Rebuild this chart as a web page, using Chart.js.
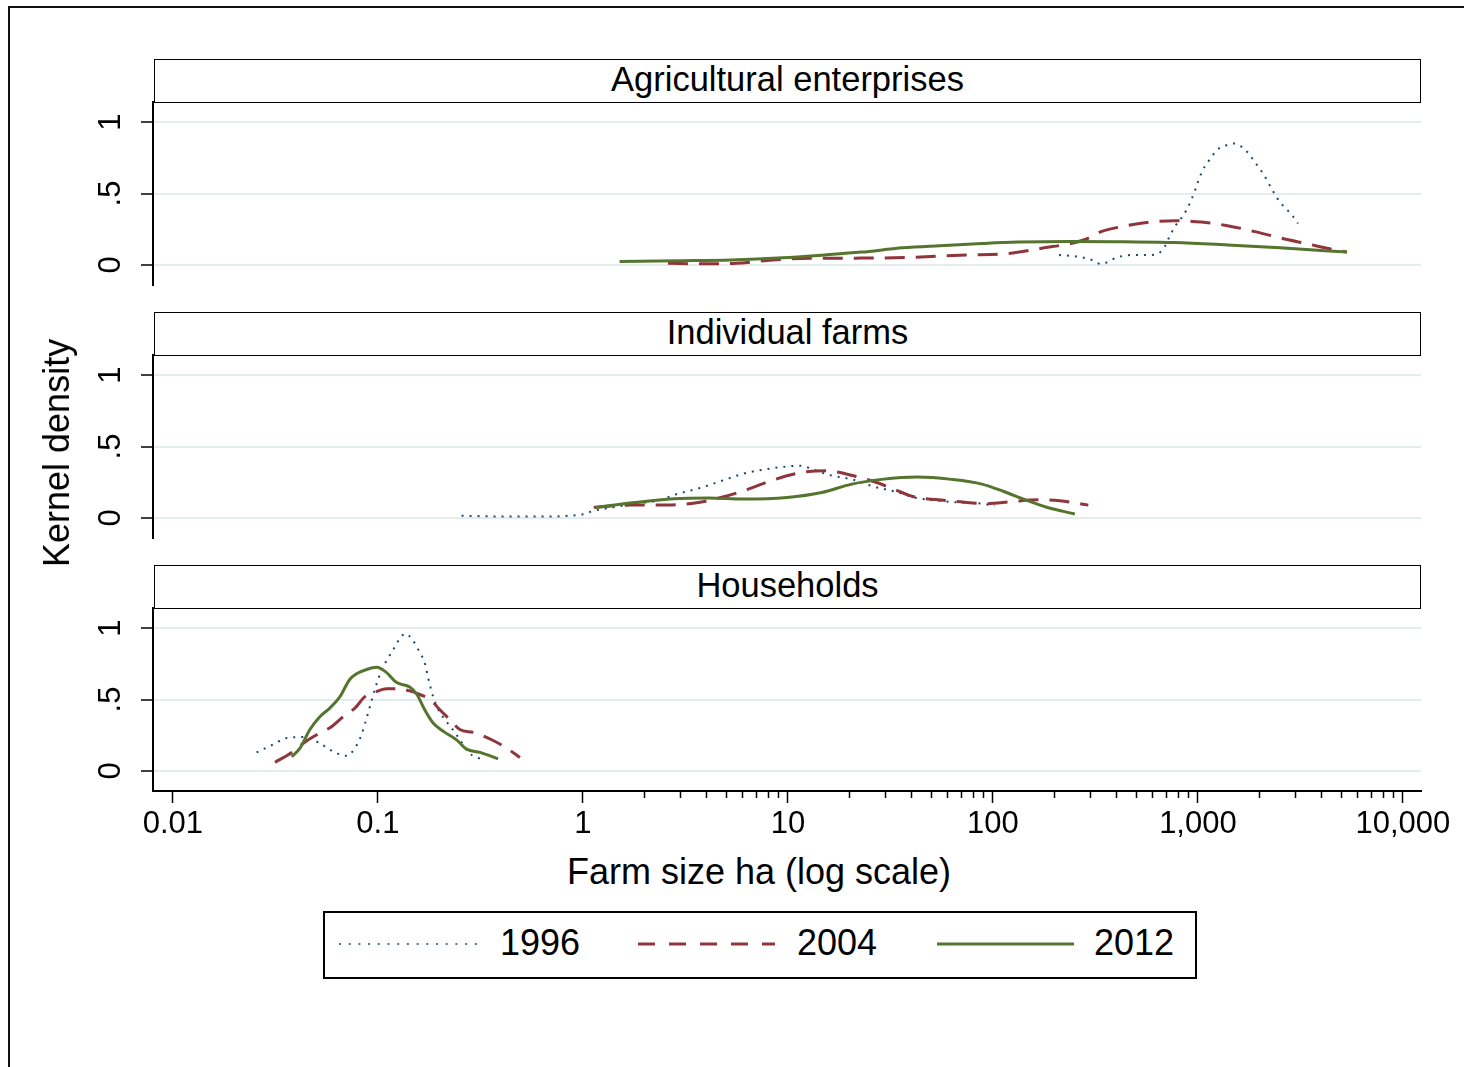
<!DOCTYPE html>
<html>
<head>
<meta charset="utf-8">
<title>Kernel density of farm size</title>
<script src="https://cdn.jsdelivr.net/npm/chart.js@4.4.1/dist/chart.umd.min.js"></script>
<style>
  html, body { margin: 0; padding: 0; background: #fff; }
  body {
    width: 1464px; height: 1067px; overflow: hidden; position: relative;
    font-family: "Liberation Sans", Arial, Helvetica, sans-serif; color: #000;
  }
  .frame {
    position: absolute; left: 8px; top: 6px; width: 1490px; height: 1100px;
    border: 2px solid #111; box-sizing: border-box;
  }
  canvas.panel { position: absolute; left: 0; }
  .strip {
    position: absolute; left: 154px; width: 1267px; height: 44px;
    border: 1.5px solid #000; box-sizing: border-box; background: #fff;
    text-align: center; font-size: 34.5px; line-height: 39px; white-space: nowrap;
  }
  .axis-title {
    position: absolute; font-size: 36px; white-space: nowrap; line-height: 1;
  }
  .legend {
    position: absolute; left: 323px; top: 911px; width: 874px; height: 68px;
    border: 2px solid #000; box-sizing: border-box; background: #fff;
  }
  .legend svg { position: absolute; overflow: visible; }
  .legend .lab { position: absolute; font-size: 36px; line-height: 1; white-space: nowrap; }
</style>
</head>
<body>
<div class="frame"></div>

<script>
// ---- farm-size densities: farm size in hectares, kernel density ----
// Agricultural enterprises
const ENT_1996_HA  = [210, 254, 304, 336, 407, 482, 577, 645, 690, 722, 773, 822, 884, 925, 967, 1011, 1052, 1119, 1183, 1280, 1400, 1500, 1622, 1742, 1853, 1985, 2099, 2195, 2297, 2430, 2583, 2748, 2906, 3075];
const ENT_1996_DEN = [0.07, 0.06, 0.035, 0.007, 0.055, 0.07, 0.07, 0.083, 0.13, 0.19, 0.27, 0.32, 0.39, 0.45, 0.52, 0.60, 0.66, 0.72, 0.77, 0.82, 0.84, 0.85, 0.83, 0.79, 0.74, 0.68, 0.63, 0.58, 0.53, 0.47, 0.42, 0.38, 0.34, 0.29];
const ENT_2004_HA  = [2.6, 3.9, 5.6, 8.4, 12.7, 22.8, 41, 74, 118, 178, 239, 284, 340, 431, 577, 773, 1040, 1394, 1872, 2512, 3365, 4508, 5336];
const ENT_2004_DEN = [0.012, 0.008, 0.012, 0.035, 0.047, 0.048, 0.054, 0.07, 0.08, 0.12, 0.15, 0.18, 0.235, 0.27, 0.30, 0.31, 0.30, 0.275, 0.235, 0.19, 0.15, 0.11, 0.09];
const ENT_2012_HA  = [1.51, 2.92, 5.26, 9.46, 15.1, 22.8, 36.4, 55.1, 88.2, 132, 239, 431, 773, 1394, 2512, 5336];
const ENT_2012_DEN = [0.025, 0.03, 0.035, 0.05, 0.07, 0.09, 0.12, 0.135, 0.15, 0.16, 0.165, 0.162, 0.157, 0.14, 0.12, 0.09];

// Individual farms
const IND_1996_HA  = [0.256, 0.417, 0.678, 0.865, 1.0, 1.13, 1.41, 1.79, 2.29, 2.92, 3.72, 4.76, 6.07, 7.73, 9.89, 11.5, 13.2, 16.0, 20.5, 26.2, 33.3, 42.6, 54.3, 69.0, 88.4, 102];
const IND_1996_DEN = [0.016, 0.01, 0.01, 0.016, 0.026, 0.05, 0.075, 0.10, 0.12, 0.17, 0.21, 0.26, 0.31, 0.34, 0.36, 0.366, 0.34, 0.30, 0.27, 0.22, 0.185, 0.14, 0.12, 0.108, 0.10, 0.085];
const IND_2004_HA  = [1.13, 1.71, 2.29, 3.07, 3.72, 4.76, 6.07, 7.73, 9.89, 12.6, 15.3, 17.7, 21.5, 26.2, 31.8, 40.6, 54.3, 69.0, 92.9, 124, 166, 212, 292];
const IND_2004_DEN = [0.075, 0.09, 0.09, 0.095, 0.11, 0.145, 0.19, 0.245, 0.295, 0.325, 0.33, 0.32, 0.29, 0.255, 0.21, 0.15, 0.127, 0.113, 0.10, 0.115, 0.127, 0.12, 0.09];
const IND_2012_HA  = [1.15, 1.79, 2.78, 4.12, 6.07, 9.89, 14.6, 20.5, 28.7, 42.6, 62.9, 88.4, 113, 144, 183, 251];
const IND_2012_DEN = [0.073, 0.108, 0.134, 0.139, 0.132, 0.143, 0.178, 0.237, 0.27, 0.287, 0.27, 0.237, 0.185, 0.127, 0.075, 0.028];

// Households
const HH_1996_HA  = [0.0256, 0.0303, 0.0359, 0.0433, 0.0512, 0.0606, 0.0703, 0.0773, 0.0832, 0.0881, 0.0931, 0.0986, 0.104, 0.110, 0.119, 0.127, 0.136, 0.147, 0.160, 0.169, 0.176, 0.186, 0.197, 0.212, 0.229, 0.251, 0.276, 0.303, 0.333];
const HH_1996_DEN = [0.13, 0.18, 0.23, 0.237, 0.20, 0.136, 0.106, 0.16, 0.254, 0.37, 0.49, 0.61, 0.70, 0.77, 0.85, 0.92, 0.96, 0.92, 0.83, 0.76, 0.65, 0.52, 0.43, 0.36, 0.30, 0.22, 0.13, 0.096, 0.077];
const HH_2004_HA  = [0.0315, 0.0380, 0.0449, 0.0521, 0.0594, 0.0677, 0.0773, 0.0865, 0.0966, 0.110, 0.123, 0.143, 0.160, 0.180, 0.200, 0.224, 0.251, 0.292, 0.315, 0.365, 0.425, 0.493];
const HH_2004_DEN = [0.06, 0.13, 0.21, 0.265, 0.31, 0.38, 0.44, 0.52, 0.55, 0.575, 0.575, 0.56, 0.535, 0.50, 0.43, 0.36, 0.29, 0.27, 0.254, 0.213, 0.16, 0.094];
const HH_2012_HA  = [0.0380, 0.0417, 0.0466, 0.0521, 0.0583, 0.0653, 0.0729, 0.0787, 0.0881, 0.0986, 0.110, 0.123, 0.143, 0.155, 0.169, 0.186, 0.209, 0.242, 0.271, 0.315, 0.386];
const HH_2012_DEN = [0.10, 0.16, 0.29, 0.38, 0.44, 0.52, 0.64, 0.68, 0.71, 0.725, 0.69, 0.62, 0.587, 0.535, 0.43, 0.336, 0.277, 0.218, 0.153, 0.13, 0.085];

// ---- categories and axis ticks ----
const PANEL_TITLES = ['Agricultural enterprises', 'Individual farms', 'Households'];
const YEARS = ['1996', '2004', '2012'];
const Y_TICKS = [0, 0.5, 1];
const Y_TICK_LABELS = ['0', '.5', '1'];
const X_MAJOR_TICKS = [0.01, 0.1, 1, 10, 100, 1000, 10000];
const X_MAJOR_LABELS = ['0.01', '0.1', '1', '10', '100', '1,000', '10,000'];
const X_MINOR_DECADES = [1, 10, 100, 1000];
const X_TITLE = 'Farm size ha (log scale)';
const Y_TITLE = 'Kernel density';

const PANEL_SERIES = [
  [[ENT_1996_HA, ENT_1996_DEN], [ENT_2004_HA, ENT_2004_DEN], [ENT_2012_HA, ENT_2012_DEN]],
  [[IND_1996_HA, IND_1996_DEN], [IND_2004_HA, IND_2004_DEN], [IND_2012_HA, IND_2012_DEN]],
  [[HH_1996_HA, HH_1996_DEN], [HH_2004_HA, HH_2004_DEN], [HH_2012_HA, HH_2012_DEN]]
];

// ---- styling ----
const LINE_STYLES = [
  { color: '#1a476f', width: 2, dash: [2, 6], legendDash: '2 7.7', legendWidth: 1.6 },
  { color: '#90353b', width: 3, dash: [20, 11], legendDash: '17 14', legendWidth: 3 },
  { color: '#55752f', width: 3, dash: [], legendDash: 'none', legendWidth: 3 }
];
const FONT = '"Liberation Sans", Arial, Helvetica, sans-serif';
const TICK_FONT_SIZE = 31;
const PAGE_W = 1464;
const PANEL_TOP = [59, 312, 565];
const STRIP_H = 43;
const PLOT_H = 183;
const PLOT_LEFT = 153;
const PLOT_RIGHT_PAD = 43;
const X_AXIS_H = 60;
const BOTTOM_SPARE = 40;
const X_MIN = 0.008, X_MAX = 12250;
const Y_MIN = -0.14, Y_MAX = 1.14;

Chart.defaults.font.family = FONT;
Chart.defaults.color = '#000';

const X_TICK_VALUES = X_MAJOR_TICKS.concat(
  X_MINOR_DECADES.flatMap(d => [2, 3, 4, 5, 6, 7, 8, 9].map(k => k * d))
).sort((a, b) => a - b);

function majorIndex(v) {
  if (v === undefined || v === null) return -1;
  return X_MAJOR_TICKS.findIndex(m => Math.abs(m - v) <= m * 1e-9);
}

function buildPanel(p) {
  const withX = p === PANEL_TITLES.length - 1;
  const canvas = document.createElement('canvas');
  canvas.className = 'panel';
  const h = STRIP_H + PLOT_H + (withX ? X_AXIS_H : BOTTOM_SPARE);
  canvas.width = PAGE_W;
  canvas.height = h;
  canvas.style.top = PANEL_TOP[p] + 'px';
  canvas.style.width = PAGE_W + 'px';
  canvas.style.height = h + 'px';
  document.body.appendChild(canvas);

  const datasets = PANEL_SERIES[p].map(([ha, den], i) => ({
    label: YEARS[i],
    data: ha.map((x, k) => ({ x: x, y: den[k] })),
    borderColor: LINE_STYLES[i].color,
    borderWidth: LINE_STYLES[i].width,
    borderDash: LINE_STYLES[i].dash,
    borderCapStyle: 'butt',
    borderJoinStyle: 'round',
    pointRadius: 0,
    pointHoverRadius: 0,
    fill: false,
    cubicInterpolationMode: 'monotone',
    order: YEARS.length - 1 - i
  }));

  new Chart(canvas, {
    type: 'line',
    data: { datasets },
    options: {
      responsive: false,
      animation: false,
      devicePixelRatio: 1,
      events: [],
      layout: { padding: { top: STRIP_H, left: 0, right: PLOT_RIGHT_PAD, bottom: withX ? 0 : BOTTOM_SPARE } },
      plugins: { legend: { display: false }, tooltip: { enabled: false }, title: { display: false } },
      scales: {
        x: {
          type: 'logarithmic',
          position: 'bottom',
          display: withX,
          min: X_MIN, max: X_MAX,
          bounds: 'data',
          afterBuildTicks: sc => { sc.ticks = X_TICK_VALUES.map(v => ({ value: v })); },
          afterFit: sc => { if (withX) sc.height = X_AXIS_H; },
          ticks: {
            autoSkip: false, minRotation: 0, maxRotation: 0, padding: 3,
            color: '#000', font: { size: TICK_FONT_SIZE },
            callback: v => { const i = majorIndex(v); return i >= 0 ? X_MAJOR_LABELS[i] : ''; }
          },
          grid: {
            drawOnChartArea: false, drawTicks: true, tickLength: 12,
            tickColor: '#000', tickWidth: 1.5,
            tickBorderDash: ctx => (majorIndex(ctx.tick && ctx.tick.value) >= 0 ? [] : [6, 40])
          },
          border: { display: true, color: '#000', width: 2 }
        },
        y: {
          type: 'linear',
          position: 'left',
          min: Y_MIN, max: Y_MAX,
          bounds: 'data',
          afterBuildTicks: sc => { sc.ticks = Y_TICKS.map(v => ({ value: v })); },
          afterFit: sc => { sc.width = PLOT_LEFT; },
          ticks: {
            minRotation: 90, maxRotation: 90, crossAlign: 'center', padding: 17,
            color: '#000', font: { size: TICK_FONT_SIZE },
            callback: v => { const i = Y_TICKS.indexOf(v); return i >= 0 ? Y_TICK_LABELS[i] : ''; }
          },
          grid: {
            color: '#e4ecee', lineWidth: 2, drawTicks: true, tickLength: 12,
            tickColor: '#000', tickWidth: 1.5
          },
          border: { display: true, color: '#000', width: 2 }
        }
      }
    }
  });

  const strip = document.createElement('div');
  strip.className = 'strip';
  strip.style.top = PANEL_TOP[p] + 'px';
  strip.textContent = PANEL_TITLES[p];
  document.body.appendChild(strip);
}

PANEL_TITLES.forEach((_, p) => buildPanel(p));

// axis titles
const xt = document.createElement('div');
xt.className = 'axis-title';
xt.textContent = X_TITLE;
xt.style.left = '759px';
xt.style.top = '872px';
xt.style.transform = 'translate(-50%, -50%)';
document.body.appendChild(xt);

const yt = document.createElement('div');
yt.className = 'axis-title';
yt.textContent = Y_TITLE;
yt.style.left = '57px';
yt.style.top = '453px';
yt.style.transform = 'translate(-50%, -50%) rotate(-90deg)';
document.body.appendChild(yt);

// legend
const LEGEND_ITEMS = [
  { x1: 14, x2: 154, lx: 175 },
  { x1: 313, x2: 450, lx: 472 },
  { x1: 612, x2: 749, lx: 769 }
];
const legend = document.createElement('div');
legend.className = 'legend';
document.body.appendChild(legend);
const SVGNS = 'http://www.w3.org/2000/svg';
YEARS.forEach((yr, i) => {
  const pos = LEGEND_ITEMS[i];
  const st = LINE_STYLES[i];
  const svg = document.createElementNS(SVGNS, 'svg');
  svg.setAttribute('width', pos.x2 - pos.x1);
  svg.setAttribute('height', 10);
  svg.style.left = pos.x1 + 'px';
  svg.style.top = (31 - 5) + 'px';
  const ln = document.createElementNS(SVGNS, 'line');
  ln.setAttribute('x1', 0); ln.setAttribute('y1', 5);
  ln.setAttribute('x2', pos.x2 - pos.x1); ln.setAttribute('y2', 5);
  ln.setAttribute('stroke', st.color);
  ln.setAttribute('stroke-width', st.legendWidth);
  if (st.legendDash !== 'none') ln.setAttribute('stroke-dasharray', st.legendDash);
  svg.appendChild(ln);
  legend.appendChild(svg);
  const lab = document.createElement('div');
  lab.className = 'lab';
  lab.textContent = yr;
  lab.style.left = pos.lx + 'px';
  lab.style.top = (31 - 19) + 'px';
  legend.appendChild(lab);
});
</script>
</body>
</html>
